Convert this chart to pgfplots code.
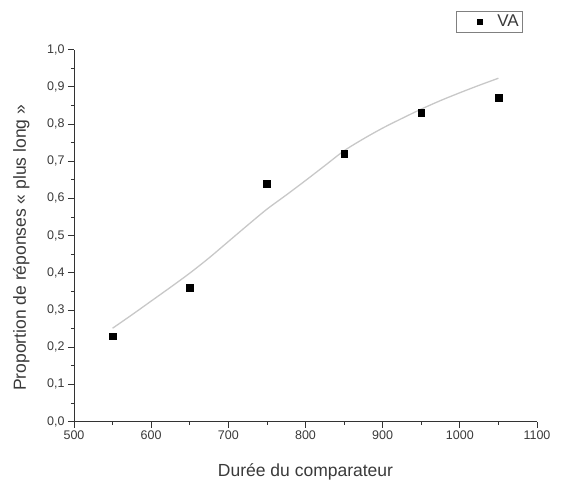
\documentclass[border=0pt]{standalone}
\usepackage{pgfplots}
\pgfplotsset{compat=1.18}
\usepackage{fontspec}
\setmainfont{Liberation Sans}
\definecolor{txt}{HTML}{3A3A3A}
\definecolor{axc}{HTML}{333333}
\definecolor{fitc}{HTML}{C8C8C8}
\begin{document}
\begin{tikzpicture}
\path[use as bounding box] (-74bp,-59.4bp) rectangle (492bp,421.6bp);
\begin{axis}[
  at={(0,0)}, anchor=south west,
  scale only axis, width=463bp, height=372bp,
  xmin=500, xmax=1100, ymin=0, ymax=1,
  axis x line*=bottom, axis y line*=left,
  axis line style={axc, line width=0.9bp, -},
  xtick={500,600,700,800,900,1000,1100}, minor x tick num=1,
  ytick={0,0.1,0.2,0.3,0.4,0.5,0.6,0.7,0.8,0.9,1.0}, minor y tick num=1,
  tick align=outside,
  major tick length=6bp, minor tick length=3bp,
  every tick/.style={axc, line width=0.8bp},
  /pgf/number format/assume math mode=true,
  /pgf/number format/1000 sep={},
  yticklabel style={/pgf/number format/.cd, fixed, fixed zerofill, precision=1, use comma},
  tick label style={font=\fontsize{12.5bp}{15bp}\selectfont, text=txt},
  xlabel={Durée du comparateur},
  ylabel={Proportion de réponses « plus long »},
  label style={font=\fontsize{17.5bp}{21bp}\selectfont, text=txt},
  xlabel style={at={(axis description cs:0.5,0)}, anchor=base, yshift=-54.4bp},
  ylabel style={at={(axis description cs:-0.1037,0.467)}, anchor=base},
  legend style={at={(axis description cs:0.970,1.104)}, anchor=north east,
    draw=gray, line width=0.8bp, font=\fontsize{17bp}{20bp}\selectfont, text=txt,
    inner xsep=2bp, inner ysep=2bp},
  legend image code/.code={\path[draw=none, fill=none] (0cm,0cm) -- (1.3cm,0cm);
    \path[draw=none] plot[mark=square*, mark size=2.6bp, mark options={draw=black, fill=black}] coordinates {(0.77cm,0cm)};},
  clip=false,
]
\addplot[fitc, line width=1.3bp, smooth, forget plot] coordinates {
(550,0.251) (575,0.287) (600,0.324) (625,0.361) (650,0.399) (675,0.440)
(700,0.484) (725,0.528) (750,0.571) (775,0.609) (800,0.648) (825,0.688)
(850,0.728) (875,0.760) (900,0.789) (925,0.815) (950,0.840) (975,0.863)
(1000,0.884) (1025,0.904) (1050,0.923)};
\addplot[only marks, mark=square*, mark size=3.3bp, black] coordinates {
(550,0.23) (650,0.36) (750,0.64) (850,0.72) (950,0.83) (1050,0.87)};
\addlegendentry{VA}
\end{axis}
\end{tikzpicture}
\end{document}
